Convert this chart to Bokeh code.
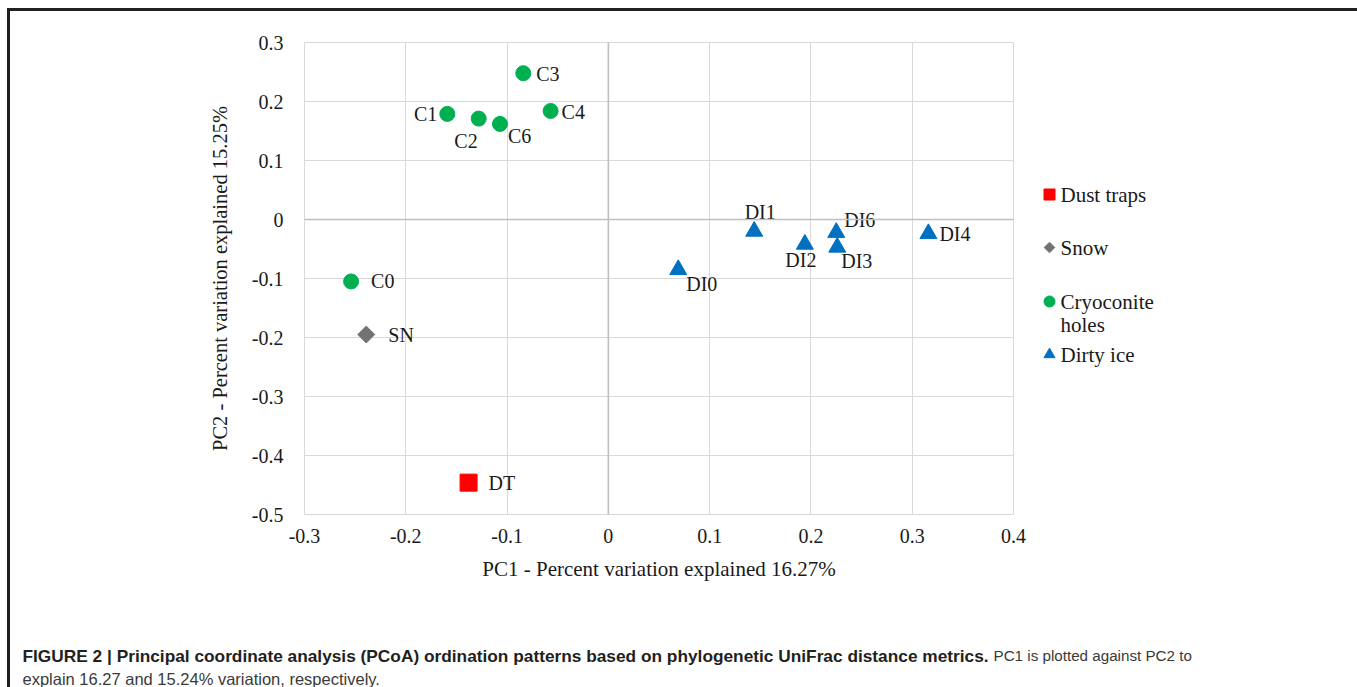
from bokeh.plotting import figure
from bokeh.layouts import column, row
from bokeh.models import Label, Span, FixedTicker, ColumnDataSource, Range1d
from bokeh.core.properties import value
from bokeh.embed import file_html
from bokeh.resources import INLINE

# ---------------- data ----------------
dt_names = ["DT"]
dt_x = [-0.138]
dt_y = [-0.446]

sn_names = ["SN"]
sn_x = [-0.239]
sn_y = [-0.195]

c_names = ["C0", "C1", "C2", "C3", "C4", "C6"]
c_x = [-0.254, -0.159, -0.128, -0.084, -0.057, -0.107]
c_y = [-0.105, 0.179, 0.171, 0.248, 0.184, 0.162]

di_names = ["DI0", "DI1", "DI2", "DI3", "DI4", "DI6"]
di_x = [0.069, 0.144, 0.194, 0.226, 0.316, 0.225]
di_y = [-0.085, -0.020, -0.042, -0.047, -0.024, -0.022]

legend_labels = ["Dust traps", "Snow", "Cryoconite", "Dirty ice"]
legend_extra = "holes"

x_ticks = [-0.3, -0.2, -0.1, 0.0, 0.1, 0.2, 0.3, 0.4]
x_tick_labels = ["-0.3", "-0.2", "-0.1", "0", "0.1", "0.2", "0.3", "0.4"]
y_ticks = [-0.5, -0.4, -0.3, -0.2, -0.1, 0.0, 0.1, 0.2, 0.3]
y_tick_labels = ["-0.5", "-0.4", "-0.3", "-0.2", "-0.1", "0", "0.1", "0.2", "0.3"]

x_title = "PC1 - Percent variation explained 16.27%"
y_title = "PC2 - Percent variation explained 15.25%"
caption_bold = ("FIGURE 2 | Principal coordinate analysis (PCoA) ordination patterns "
                "based on phylogenetic UniFrac distance metrics.")
caption_rest = "PC1 is plotted against PC2 to"
caption_line2 = "explain 16.27 and 15.24% variation, respectively."

# ---------------- layout (page pixels) ----------------
ML, MT, B = 7, 8, 3            # outer box margin and border
OX, OY = ML + B, MT + B        # content origin on page
TOTAL_W = 1356 - ML
ROW_BOTTOM = 600
FX0, FX1 = 304, 1013           # frame left/right on page
FY0, FY1 = 42, 514             # frame top/bottom on page
X0, X1 = -0.3, 0.4
YT, YB = 0.3, -0.5

P_W = 1030 - OX
P_H = ROW_BOTTOM - OY
L_X0 = OX + P_W
L_W = TOTAL_W - P_W
C_H = 687 - ROW_BOTTOM

SERIF = "Liberation Serif"
SANS = "Liberation Sans"
INK = "#1a1a1a"

# ---------------- main chart ----------------
p = figure(width=P_W, height=P_H, x_range=(X0, X1), y_range=(YB, YT),
           output_backend="svg", toolbar_location=None,
           min_border_left=FX0 - OX, min_border_right=P_W - (FX1 - OX),
           min_border_top=FY0 - OY, min_border_bottom=P_H - (FY1 - OY))
p.background_fill_color = "white"
p.border_fill_color = "white"
p.outline_line_color = "#d9d9d9"

p.xaxis.ticker = FixedTicker(ticks=x_ticks)
p.yaxis.ticker = FixedTicker(ticks=y_ticks)
p.xaxis.major_label_overrides = dict(zip(x_ticks, x_tick_labels))
p.yaxis.major_label_overrides = dict(zip(y_ticks, y_tick_labels))
for ax in (p.xaxis, p.yaxis):
    ax.axis_line_color = None
    ax.major_tick_line_color = None
    ax.minor_tick_line_color = None
    ax.major_tick_in = 0
    ax.major_tick_out = 0
    ax.major_label_text_font = SERIF
    ax.major_label_text_font_size = "20px"
    ax.major_label_text_color = INK
    ax.axis_label_text_font = SERIF
    ax.axis_label_text_font_style = "normal"
    ax.axis_label_text_color = INK
p.xaxis.axis_label_text_font_size = "21px"
p.yaxis.axis_label_text_font_size = "20.5px"
p.xaxis.axis_label = x_title
p.yaxis.axis_label = y_title
p.yaxis.major_label_standoff = 21
p.xaxis.major_label_standoff = 14
p.yaxis.axis_label_standoff = 18
p.xaxis.axis_label_standoff = 11

p.xgrid.ticker = FixedTicker(ticks=x_ticks)
p.ygrid.ticker = FixedTicker(ticks=y_ticks)
p.grid.grid_line_color = "#d9d9d9"
p.grid.grid_line_width = 1

p.add_layout(Span(location=0, dimension="height", line_color="#bfbfbf", line_width=1.6))
p.add_layout(Span(location=0, dimension="width", line_color="#bfbfbf", line_width=1.6))

COL_DT, COL_SN, COL_C, COL_DI = "#ff0000", "#767171", "#00b050", "#0070c0"
p.scatter(dt_x, dt_y, marker="square", size=17, color=COL_DT)
p.scatter(sn_x, sn_y, marker="square", size=12, angle=0.785398, color=COL_SN)
p.scatter(c_x, c_y, marker="circle", size=15, color=COL_C)
p.scatter(di_x, di_y, marker="triangle", size=17, color=COL_DI)

label_style = {
    "C0": (20, 0, "left"), "C1": (-10, 0, "right"), "C2": (-1, 22, "right"),
    "C3": (13, 1, "left"), "C4": (11, 1, "left"), "C6": (8, 12, "left"),
    "SN": (22, 0, "left"), "DT": (20, 0, "left"),
    "DI0": (8, 14, "left"), "DI1": (6, -19, "center"), "DI2": (-4, 16, "center"),
    "DI3": (4, 14, "left"), "DI4": (11, 0, "left"), "DI6": (8, -12, "left"),
}
all_names = dt_names + sn_names + c_names + di_names
all_x = dt_x + sn_x + c_x + di_x
all_y = dt_y + sn_y + c_y + di_y
for align in ("left", "right", "center"):
    idx = [i for i, n in enumerate(all_names) if label_style[n][2] == align]
    src = ColumnDataSource(dict(
        x=[all_x[i] for i in idx], y=[all_y[i] for i in idx],
        t=[all_names[i] for i in idx],
        xo=[label_style[all_names[i]][0] for i in idx],
        yo=[label_style[all_names[i]][1] for i in idx]))
    p.text(x="x", y="y", text="t", x_offset="xo", y_offset="yo", source=src,
           text_align=align, text_baseline="middle",
           text_font=value(SERIF), text_font_size="20px", text_color=INK)


def panel(w, h, xr, yr, top=0, bottom=0):
    f = figure(width=w, height=h, x_range=Range1d(*xr), y_range=Range1d(*yr),
               output_backend="svg", toolbar_location=None,
               x_axis_location=None, y_axis_location=None,
               min_border=0, min_border_left=0, min_border_right=0,
               min_border_top=top, min_border_bottom=bottom)
    f.grid.visible = False
    f.outline_line_color = None
    f.background_fill_color = "white"
    f.border_fill_color = "white"
    return f


# ---------------- legend panel (data units = page px) ----------------
L = panel(L_W, P_H, (L_X0, L_X0 + L_W), (FY1, FY0),
          top=FY0 - OY, bottom=P_H - (FY1 - OY))
leg_y = [194, 247, 301, 354]
mx = [1049]
L.scatter(mx, [leg_y[0]], marker="square", size=11, color=COL_DT)
L.scatter(mx, [leg_y[1]], marker="square", size=7.5, angle=0.785398, color=COL_SN)
L.scatter(mx, [leg_y[2]], marker="circle", size=11, color=COL_C)
L.scatter(mx, [leg_y[3]], marker="triangle", size=11, color=COL_DI)
L.text(x=[1060] * 5, y=leg_y + [324],
       text=legend_labels + [legend_extra],
       text_align="left", text_baseline="middle",
       text_font=value(SERIF), text_font_size="21px", text_color=INK)

# ---------------- caption panel (data units = page px) ----------------
C = panel(TOTAL_W, C_H, (OX, OX + TOTAL_W), (ROW_BOTTOM + C_H, ROW_BOTTOM))
C.add_layout(Label(x=22, y=655, text=caption_bold,
                   text_font=SANS, text_font_size="17.3px", text_font_style="bold",
                   text_color="#231f20", text_baseline="middle", text_align="left"))
C.add_layout(Label(x=993, y=655, text=caption_rest,
                   text_font=SANS, text_font_size="15.2px",
                   text_color="#3a3a3a", text_baseline="middle", text_align="left"))
C.add_layout(Label(x=22, y=678, text=caption_line2,
                   text_font=SANS, text_font_size="16.5px",
                   text_color="#3a3a3a", text_baseline="middle", text_align="left"))

layout = column(row(p, L, spacing=0), C, spacing=0)
layout.styles = {"margin-left": f"{ML}px", "margin-top": f"{MT}px",
                 "border-top": f"{B}px solid #231f20",
                 "border-left": f"{B}px solid #231f20",
                 "border-right": f"{B}px solid #231f20"}

open("out.html", "w").write(file_html(layout, INLINE))
